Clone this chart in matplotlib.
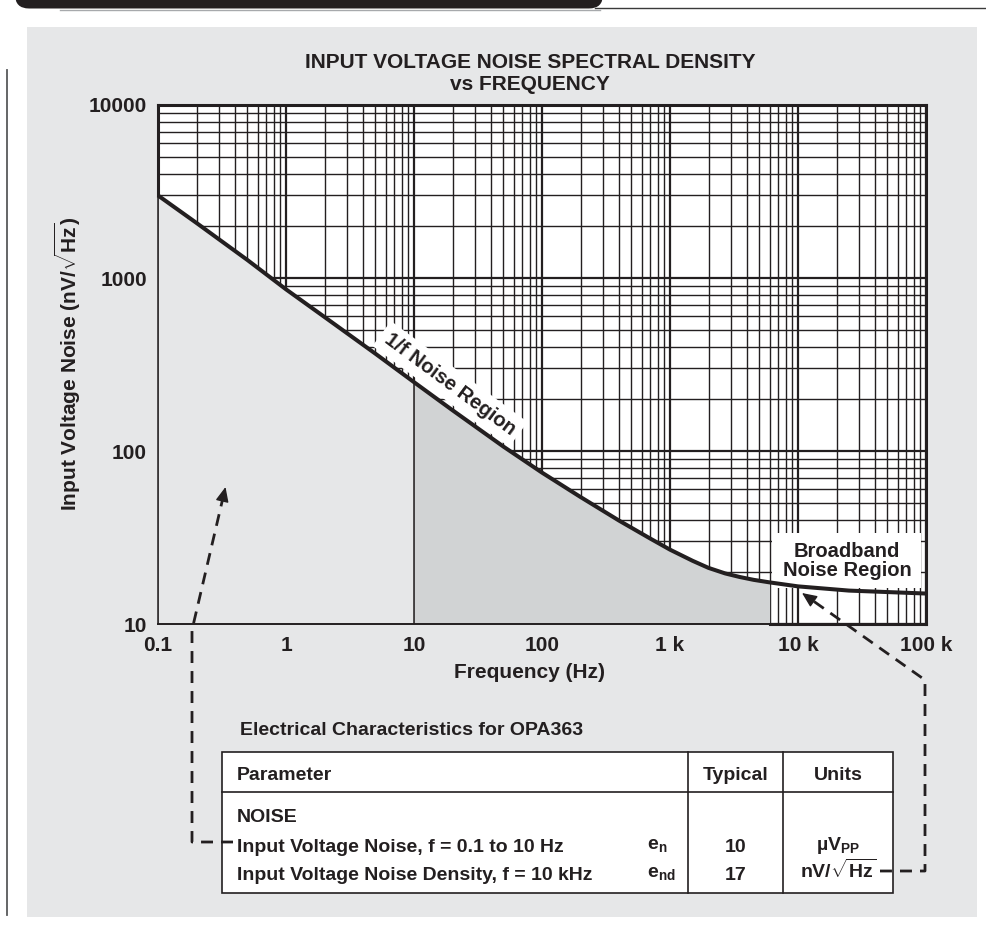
import numpy as np
import matplotlib
matplotlib.use("Agg")
import matplotlib.pyplot as plt
from matplotlib.patches import Rectangle, FancyBboxPatch
from matplotlib.ticker import FixedLocator, LogLocator, NullFormatter

# --- Noise curve ---
freq_hz = [0.1, 0.2, 0.5, 1, 2, 5, 10, 20, 50, 100, 200, 400, 700,
           1000, 1500, 2000, 2700, 3500, 4500, 6000, 10000, 25000, 100000]
noise_nv = [3000, 2080, 1270, 860, 595, 365, 250, 172, 106, 75, 54.2, 39.6, 31.2,
            26.9, 23.2, 21.1, 19.6, 18.7, 18.0, 17.4, 16.5, 15.6, 15.0]

shade_start_hz = 10      # 0.1 Hz to 10 Hz band edge
shade_stop_hz = 6000     # end of the darker shaded band

x_ticks = [0.1, 1, 10, 100, 1e3, 1e4, 1e5]
x_labels = ["0.1", "1", "10", "100", "1 k", "10 k", "100 k"]
y_ticks = [10, 100, 1000, 10000]
y_labels = ["10", "100", "1000", "10000"]

# --- Spec table ---
table_header = ["Parameter", "Typical", "Units"]
table_rows = [
    ("Input Voltage Noise, f = 0.1 to 10 Hz", r"e$_\mathrm{n}$", "10", r"µV$_\mathrm{PP}$"),
    ("Input Voltage Noise Density, f = 10 kHz", r"e$_\mathrm{nd}$", "17", r"nV/$\sqrt{\mathrm{Hz}}$"),
]

ink = "#231f20"
panel = "#e6e7e8"
shade = "#d1d3d4"

plt.rcParams["font.family"] = ["Liberation Sans", "DejaVu Sans"]
plt.rcParams["font.weight"] = "bold"
plt.rcParams["mathtext.fontset"] = "custom"
plt.rcParams["mathtext.rm"] = "Liberation Sans:bold"
plt.rcParams["mathtext.bf"] = "Liberation Sans:bold"
plt.rcParams["mathtext.it"] = "Liberation Sans:bold"
plt.rcParams["text.color"] = ink

W, H = 986, 934
fig = plt.figure(figsize=(W / 100, H / 100), dpi=100)

# pixel-space layer behind everything
bg = fig.add_axes([0, 0, 1, 1], zorder=0)
bg.set_xlim(0, W)
bg.set_ylim(H, 0)
bg.axis("off")

# header bar and page rule
bg.add_patch(FancyBboxPatch((15, -30), 588, 38.5, boxstyle="round,pad=0,rounding_size=14",
                            fc=ink, ec="none"))
bg.plot([595, W], [8, 8], color="#3a3a3a", lw=1)
bg.plot([60, 600], [9.5, 9.5], color="#a7a9ac", lw=1)
bg.plot([7, 7], [70, 915], color="#58595b", lw=1.3)

# gray panel
bg.add_patch(Rectangle((27, 27), 950, 890, fc=panel, ec="none"))

bg.text(530, 68, "INPUT VOLTAGE NOISE SPECTRAL DENSITY", ha="center", va="baseline", fontsize=15)
bg.text(530, 90, "vs FREQUENCY", ha="center", va="baseline", fontsize=15)
bg.text(529, 673, "Frequency (Hz)", ha="center", va="center", fontsize=15)
bg.text(68, 364, r"Input Voltage Noise (nV/$\sqrt{\mathrm{Hz}}$)", rotation=90,
        ha="center", va="center", fontsize=15)

# --- main log-log plot ---
ax = fig.add_axes([158 / W, 1 - 624 / H, 768 / W, 519 / H], zorder=1)
ax.set_xscale("log")
ax.set_yscale("log")
ax.set_xlim(x_ticks[0], x_ticks[-1])
ax.set_ylim(y_ticks[0], y_ticks[-1])
ax.set_facecolor("white")
ax.set_axisbelow(True)

ax.xaxis.set_major_locator(FixedLocator(x_ticks))
ax.yaxis.set_major_locator(FixedLocator(y_ticks))
ax.xaxis.set_minor_locator(LogLocator(base=10, subs=np.arange(2, 10), numticks=20))
ax.yaxis.set_minor_locator(LogLocator(base=10, subs=np.arange(2, 10), numticks=20))
ax.xaxis.set_minor_formatter(NullFormatter())
ax.yaxis.set_minor_formatter(NullFormatter())
ax.set_xticklabels(x_labels, fontsize=15, fontweight="bold")
ax.set_yticklabels(y_labels, fontsize=15, fontweight="bold")
ax.tick_params(axis="x", which="both", length=0, pad=8.6, colors=ink)
ax.tick_params(axis="y", which="both", length=0, pad=8, colors=ink)
ax.grid(which="major", color=ink, lw=1.6)
ax.grid(which="minor", color=ink, lw=1.0)
for s in ax.spines.values():
    s.set_visible(False)

f = np.array(freq_hz)
n = np.array(noise_nv)
ax.fill_between(f, n, y_ticks[0], where=f <= shade_start_hz, color=panel, lw=0, zorder=1)
ax.fill_between(f, n, y_ticks[0], where=(f >= shade_start_hz) & (f <= shade_stop_hz),
                color=shade, lw=0, zorder=1)
ax.vlines(shade_start_hz, y_ticks[0], n[f == shade_start_hz][0], color=ink, lw=1.1, zorder=2)

# frame: heavy around the grid, light along the shaded parts
frame = dict(color=ink, clip_on=False, zorder=5, solid_capstyle="projecting")
ax.plot([x_ticks[0], x_ticks[-1]], [y_ticks[-1]] * 2, lw=2.2, **frame)
ax.plot([x_ticks[-1]] * 2, [y_ticks[0], y_ticks[-1]], lw=2.2, **frame)
ax.plot([x_ticks[0]] * 2, [n[0], y_ticks[-1]], lw=2.2, **frame)
ax.plot([x_ticks[0]] * 2, [y_ticks[0], n[0]], lw=1.1, **frame)
ax.plot([x_ticks[0], shade_stop_hz], [y_ticks[0]] * 2, lw=1.4, **frame)
ax.plot([shade_stop_hz, x_ticks[-1]], [y_ticks[0]] * 2, lw=2.2, **frame)

ax.plot(f, n, color=ink, lw=2.9, zorder=4, clip_on=False, solid_capstyle="butt",
        solid_joinstyle="round")

# region labels
ax.text(450, 384, "1/f Noise Region", transform=bg.transData, rotation=-36.5,
        rotation_mode="anchor", ha="center", va="center", fontsize=14.5, zorder=3,
        bbox=dict(boxstyle="square,pad=0.3", fc="white", ec="none"))
ax.add_patch(Rectangle((772, 533), 149, 55, transform=bg.transData, fc="white", ec="none", zorder=3))
ax.text(847, 561, "Broadband\nNoise Region", transform=bg.transData, ha="center", va="center",
        fontsize=14.5, linespacing=1.05, zorder=3)

# --- spec table ---
bg.text(240, 735, "Electrical Characteristics for OPA363", ha="left", va="baseline", fontsize=14)
tl, tr, tt, tb = 222, 893, 752, 893
c1, c2 = 688, 783
bg.add_patch(Rectangle((tl, tt), tr - tl, tb - tt, fc="white", ec=ink, lw=1.2))
bg.plot([tl, tr], [792, 792], color=ink, lw=1.2)
bg.plot([c1, c1], [tt, tb], color=ink, lw=1.2)
bg.plot([c2, c2], [tt, tb], color=ink, lw=1.2)
bg.text(237, 780, table_header[0], ha="left", va="baseline", fontsize=14)
bg.text((c1 + c2) / 2, 780, table_header[1], ha="center", va="baseline", fontsize=14)
bg.text((c2 + tr) / 2, 780, table_header[2], ha="center", va="baseline", fontsize=14)
bg.text(237, 822, "NOISE", ha="left", va="baseline", fontsize=14)
for (label, sym, typ, unit), base in zip(table_rows, [852, 880]):
    bg.text(237, base, label, ha="left", va="baseline", fontsize=14)
    bg.text(647, base - 3, sym, ha="left", va="baseline", fontsize=14)
    bg.text((c1 + c2) / 2, base, typ, ha="center", va="baseline", fontsize=14)
    bg.text((c2 + tr) / 2, base - 2, unit, ha="center", va="baseline", fontsize=14)

# --- dashed pointer arrows (top layer) ---
fg = fig.add_axes([0, 0, 1, 1], zorder=2)
fg.set_xlim(0, W)
fg.set_ylim(H, 0)
fg.axis("off")
fg.patch.set_alpha(0)


def dashed_arrow(points, tip, head=12.5):
    tip = np.array(tip, float)
    u = tip - np.array(points[-1], float)
    u /= np.hypot(*u)
    base = tip - head * u
    xs = [p[0] for p in points] + [base[0]]
    ys = [p[1] for p in points] + [base[1]]
    fg.plot(xs, ys, color=ink, lw=2, linestyle=(0, (4.3, 2.9)), dash_capstyle="butt")
    fg.annotate("", xy=tip, xytext=base,
                arrowprops=dict(arrowstyle="-|>,head_length=0.9,head_width=0.4", color=ink,
                                lw=1, shrinkA=0, shrinkB=0, mutation_scale=10))


dashed_arrow([(233, 842), (192, 842), (192, 630)], (225.5, 487))
dashed_arrow([(880, 871), (925, 871), (925, 680)], (802, 593))

fig.savefig("out.png", dpi=100)
